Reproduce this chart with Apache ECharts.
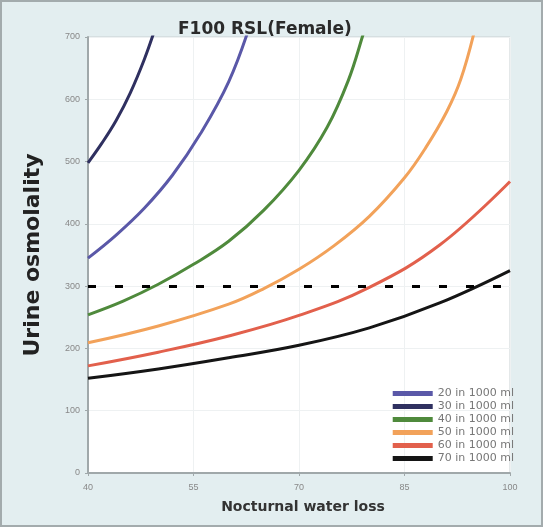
<!DOCTYPE html>
<html><head><meta charset="utf-8">
<script src="https://cdn.jsdelivr.net/npm/echarts@6/dist/echarts.min.js"></script>
<style>
html,body{margin:0;padding:0;}
#c{width:539px;height:523px;border:2px solid #a3abad;background:#e3eef0;}
</style></head><body>
<div id="c"></div>
<script>
const titleText = "F100 RSL(Female)";
const xTicks = [40, 55, 70, 85, 100];
const seriesNames = ["20 in 1000 ml", "30 in 1000 ml", "40 in 1000 ml", "50 in 1000 ml", "60 in 1000 ml", "70 in 1000 ml"];
const navy  = [[40,498],[42,530],[44,566],[46,610],[48,664],[49.5,712]];
const blue  = [[40,345],[44,382],[48,425],[52,478],[56,545],[60,628],[63,718]];
const green = [[40,254],[45,276],[50,303],[55,335],[60,372],[65,422],[70,486],[74,555],[77,630],[79,700],[80,740]];
const orange= [[40,209],[50,236],[60,271],[65,296],[70,327],[75,365],[80,412],[85,474],[88,522],[91,580],[93,632],[95,712]];
const red   = [[40,172],[50,194],[60,220],[70,253],[80,298],[90,366],[100,468]];
const black = [[40,152],[50,167],[60,185],[70,205],[80,233],[90,273],[100,325]];
const threshold = 300;

const chart = echarts.init(document.getElementById('c'));
const mk = (name, data, color) => ({
  name, type:'line', data, smooth:0.4, symbol:'none',
  lineStyle:{width:3, color}, itemStyle:{color}, clip:true, z:3
});
chart.setOption({
  animation:false,
  title:{text:titleText, left:171, top:14,
    textStyle:{fontSize:17, fontWeight:'bold', color:'#2a2a2a', fontFamily:'DejaVu Sans'}},
  grid:{left:86, right:31, top:35, bottom:52, show:true, backgroundColor:'#ffffff', borderColor:'#c8d0d2', borderWidth:1},
  legend:{orient:'vertical', right:22, bottom:56, itemWidth:40, itemHeight:5, itemGap:2, icon:'rect',
    textStyle:{fontSize:11, color:'#777', lineHeight:10, fontFamily:'DejaVu Sans'},
    data:seriesNames},
  xAxis:{type:'value', min:xTicks[0], max:xTicks[xTicks.length-1], interval:15,
    name:'Nocturnal water loss', nameLocation:'middle', nameGap:27,
    nameTextStyle:{fontSize:14, fontWeight:'bold', color:'#333', fontFamily:'DejaVu Sans', padding:[0,0,0,8]},
    axisLine:{lineStyle:{color:'#a0a8aa', width:2}},
    axisTick:{show:true, length:3, lineStyle:{color:'#a0a8aa'}},
    axisLabel:{fontSize:9, color:'#888', margin:10},
    splitLine:{show:true, lineStyle:{color:'#eef1f2'}}},
  yAxis:{type:'value', min:0, max:700, interval:100,
    name:'Urine osmolality', nameLocation:'middle', nameGap:44,
    nameTextStyle:{fontSize:22, fontWeight:'bold', color:'#222', fontFamily:'DejaVu Sans'},
    axisLine:{show:true, lineStyle:{color:'#a0a8aa', width:2}},
    axisTick:{show:true, length:3, lineStyle:{color:'#a0a8aa'}},
    axisLabel:{fontSize:9, color:'#888', margin:8},
    splitLine:{show:true, lineStyle:{color:'#eef1f2'}}},
  series:[
    mk(seriesNames[0], blue, '#5a58a8'),
    mk(seriesNames[1], navy, '#2f3060'),
    mk(seriesNames[2], green, '#4f8a3c'),
    mk(seriesNames[3], orange, '#f2a25a'),
    mk(seriesNames[4], red, '#e2604c'),
    mk(seriesNames[5], black, '#151515'),
    {type:'line', data:[], markLine:{silent:true, symbol:'none', label:{show:false},
      lineStyle:{type:[8,19], color:'#000', width:3}, data:[{yAxis:threshold}]}}
  ]
});
</script></body></html>
